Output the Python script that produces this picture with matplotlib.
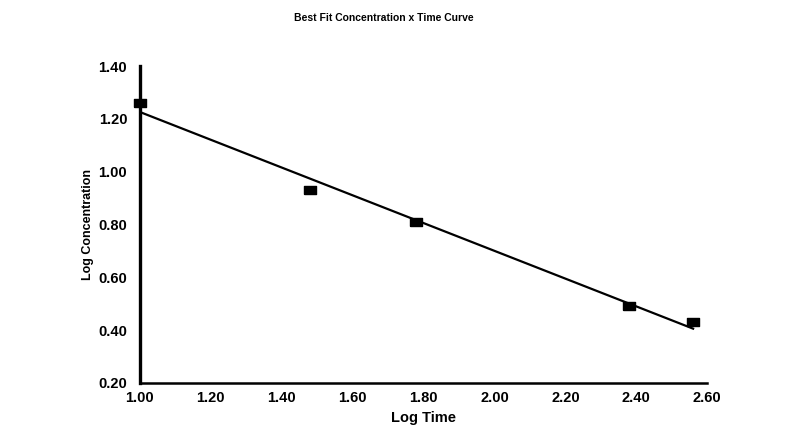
import matplotlib
matplotlib.use("Agg")
import matplotlib.pyplot as plt
import numpy as np
from matplotlib import font_manager

# log time vs log concentration samples
log_time = [1.00, 1.48, 1.78, 2.38, 2.56]
log_conc = [1.26, 0.93, 0.81, 0.49, 0.43]

x_ticks = [1.00, 1.20, 1.40, 1.60, 1.80, 2.00, 2.20, 2.40, 2.60]
y_ticks = [0.20, 0.40, 0.60, 0.80, 1.00, 1.20, 1.40]

plt.rcParams["font.family"] = ["Liberation Sans", "DejaVu Sans"]
plt.rcParams["font.weight"] = "bold"

names = {f.name for f in font_manager.fontManager.ttflist}
narrow = "Liberation Sans Narrow" if "Liberation Sans Narrow" in names else "Liberation Sans"

fig = plt.figure(figsize=(7.85, 4.4), dpi=100)
ax = fig.add_axes([0.178, 0.130, 0.723, 0.720])

# least-squares line through the points
slope, intercept = np.polyfit(log_time, log_conc, 1)
xs = np.array([log_time[0], log_time[-1]])
ax.plot(xs, slope * xs + intercept, color="black", lw=1.6, zorder=2)

# flat rectangular markers
rect = [(-1, -0.6), (1, -0.6), (1, 0.6), (-1, 0.6), (-1, -0.6)]
ax.plot(log_time, log_conc, ls="none", marker=rect, ms=8.5,
        color="black", zorder=3, clip_on=False)

ax.set_xlim(1.0, 2.6)
ax.set_ylim(0.2, 1.4)
ax.set_xticks(x_ticks)
ax.set_yticks(y_ticks)
ax.set_xticklabels([f"{v:.2f}" for v in x_ticks], fontsize=10.5, fontweight="bold")
ax.set_yticklabels([f"{v:.2f}" for v in y_ticks], fontsize=10.5, fontweight="bold")
ax.tick_params(length=0)
ax.tick_params(axis="x", pad=6)
ax.tick_params(axis="y", pad=9)

for side in ("top", "right"):
    ax.spines[side].set_visible(False)
ax.spines["left"].set_linewidth(2.4)
ax.spines["bottom"].set_linewidth(1.8)

ax.set_xlabel("Log Time", fontsize=10.5, fontweight="bold", labelpad=4)
ax.set_ylabel("Log Concentration", fontsize=9, fontweight="bold",
              family=narrow, labelpad=3)

fig.text(0.489, 0.958, "Best Fit Concentration x Time Curve",
         ha="center", va="center", fontsize=7.5, fontweight="bold")

fig.savefig("out.png", dpi=100)
